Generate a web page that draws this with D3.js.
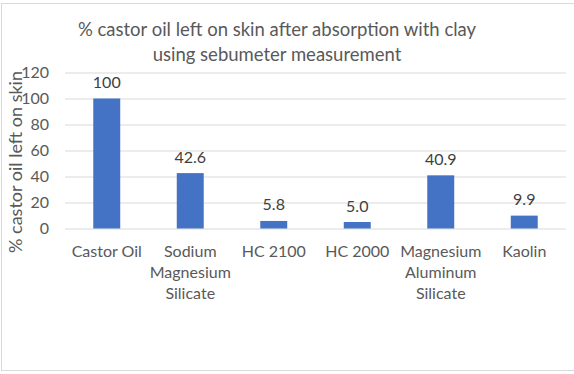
<!DOCTYPE html>
<html>
<head>
<meta charset="utf-8">
<script src="https://cdn.jsdelivr.net/npm/d3@7"></script>
<style>
  body { margin: 0; background: #fff; }
  text { font-family: Lato, "Open Sans", sans-serif; }
</style>
</head>
<body>
<svg id="chart" width="574" height="374"></svg>
<script>
// chart values
var categories = ['Castor Oil', 'Sodium Magnesium Silicate', 'HC 2100', 'HC 2000', 'Magnesium Aluminum Silicate', 'Kaolin'];
var values = [100, 42.6, 5.8, 5.0, 40.9, 9.9];
var valueLabels = ['100', '42.6', '5.8', '5.0', '40.9', '9.9'];
var yTicks = [0, 20, 40, 60, 80, 100, 120];
var titleLines = ['% castor oil left on skin after absorption with clay', 'using sebumeter measurement'];
var yTitle = '% castor oil left on skin';

var svg = d3.select('#chart');

//outer chart border, right edge falls off the picture
svg.append('rect')
    .attr('x', 1.5).attr('y', 3.5)
    .attr('width', 590).attr('height', 367)
    .attr('fill', '#fff')
    .attr('stroke', '#d9d9d9');

var x = d3.scaleBand()
    .domain(categories)
    .range([65, 566])
    .paddingInner(0.677)
    .paddingOuter(0.3385);

var y = d3.scaleLinear()
    .domain([0, 120])
    .range([228.5, 72.5]);

//gridlines + tick labels
var yAxis = svg.append('g')
    .attr('transform', 'translate(65,0)')
    .call(d3.axisLeft(y).tickValues(yTicks).tickSize(-501).tickPadding(16));
yAxis.select('.domain').remove();
yAxis.selectAll('.tick line').attr('stroke', '#d9d9d9');
yAxis.selectAll('.tick text')
    .attr('fill', '#595959')
    .style('font-size', '16px')
    .style('font-family', 'Lato, sans-serif');

//bars
svg.append('g').selectAll('rect')
    .data(values)
    .enter()
    .append('rect')
    .attr('x', function(d, i) { return x(categories[i]); })
    .attr('y', function(d) { return y(d); })
    .attr('width', x.bandwidth())
    .attr('height', function(d) { return y(0) - y(d); })
    .attr('fill', '#4472c4');

//value labels above bars
svg.append('g').selectAll('text')
    .data(values)
    .enter()
    .append('text')
    .attr('x', function(d, i) { return x(categories[i]) + x.bandwidth() / 2; })
    .attr('y', function(d) { return y(d) - 10.5; })
    .attr('text-anchor', 'middle')
    .attr('fill', '#404040')
    .style('font-size', '16px')
    .text(function(d, i) { return valueLabels[i]; });

//category labels, wrapped word by word to the band step
var catG = svg.append('g');
categories.forEach(function(c) {
    var t = catG.append('text')
        .attr('text-anchor', 'middle')
        .attr('fill', '#595959')
        .style('font-size', '16px');
    var cx = x(c) + x.bandwidth() / 2;
    var words = c.split(' ');
    var lines = [];
    var cur = [];
    words.forEach(function(w) {
        var test = cur.concat([w]).join(' ');
        t.text(test);
        if (cur.length && t.node().getComputedTextLength() > x.step() - 2) {
            lines.push(cur.join(' '));
            cur = [w];
        } else {
            cur.push(w);
        }
    });
    lines.push(cur.join(' '));
    t.text(null);
    lines.forEach(function(l, j) {
        t.append('tspan')
            .attr('x', cx)
            .attr('y', 256.5 + j * 21)
            .text(l);
    });
});

//title
svg.append('g').selectAll('text')
    .data(titleLines)
    .enter()
    .append('text')
    .attr('x', 277)
    .attr('y', function(d, i) { return 36 + i * 24.5; })
    .attr('text-anchor', 'middle')
    .attr('fill', '#595959')
    .style('font-size', '18.5px')
    .text(function(d) { return d; });

//y axis title
svg.append('text')
    .attr('transform', 'translate(21.5,162) rotate(-90)')
    .attr('text-anchor', 'middle')
    .attr('fill', '#595959')
    .style('font-size', '18px')
    .text(yTitle);
</script>
</body>
</html>
